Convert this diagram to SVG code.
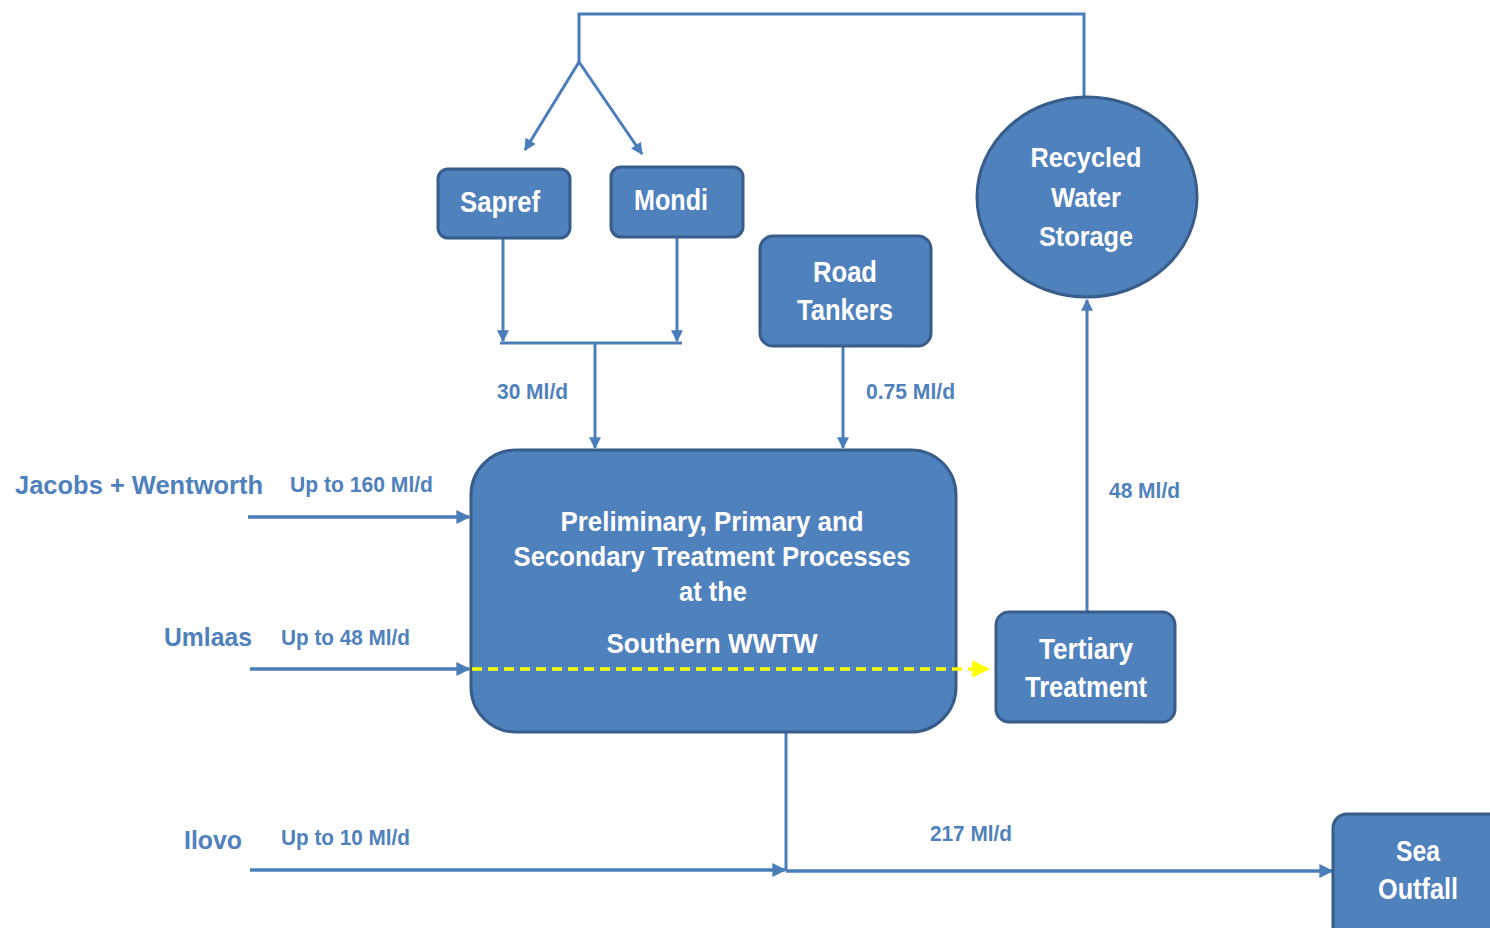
<svg xmlns="http://www.w3.org/2000/svg" width="1490" height="928" viewBox="0 0 1490 928">
<defs>
<style>
.node{fill:#4F81BD;stroke:#385D8A;stroke-width:3}
.nt{fill:#FFFFFF;font-family:"Liberation Sans Narrow","Liberation Sans",Arial,sans-serif;font-weight:bold;text-anchor:middle}
.lbl{fill:#4F81BD;font-family:"Liberation Sans Narrow","Liberation Sans",Arial,sans-serif;font-weight:bold}
.src{fill:#4F81BD;font-family:"Liberation Sans",Arial,sans-serif;font-weight:bold}
.ln{fill:none;stroke:#4A7EBB;stroke-width:3.5}
.thin{fill:none;stroke:#4A7EBB;stroke-width:3}
</style>
<marker id="ah" viewBox="0 0 10 10" refX="9" refY="5" markerWidth="4" markerHeight="4" orient="auto" markerUnits="strokeWidth">
<path d="M0,0 L10,5 L0,10 z" fill="#4A7EBB"/>
</marker>
<marker id="ay" viewBox="0 0 10 10" refX="9" refY="5" markerWidth="5" markerHeight="5" orient="auto" markerUnits="strokeWidth">
<path d="M0,0 L10,5 L0,10 z" fill="#FFFF00"/>
</marker>
</defs>
<rect width="1490" height="928" fill="#FFFFFF"/>

<g id="connectors">
<polyline class="thin" points="1084,97 1084,14 579,14 579,62"/>
<line class="thin" x1="579" y1="62" x2="525" y2="150" marker-end="url(#ah)"/>
<line class="thin" x1="579" y1="62" x2="642" y2="154" marker-end="url(#ah)"/>
<line class="thin" x1="503" y1="238" x2="503" y2="341" marker-end="url(#ah)"/>
<line class="thin" x1="677" y1="237" x2="677" y2="341" marker-end="url(#ah)"/>
<line class="thin" x1="500" y1="343" x2="682" y2="343"/>
<line class="thin" x1="595" y1="343" x2="595" y2="448" marker-end="url(#ah)"/>
<line class="thin" x1="843" y1="346" x2="843" y2="448" marker-end="url(#ah)"/>
<line class="ln" x1="248" y1="517" x2="469" y2="517" marker-end="url(#ah)"/>
<line class="ln" x1="250" y1="669" x2="469" y2="669" marker-end="url(#ah)"/>
<line class="thin" x1="1087" y1="612" x2="1087" y2="300" marker-end="url(#ah)"/>
<line class="thin" x1="786" y1="732" x2="786" y2="871"/>
<line class="ln" x1="250" y1="870" x2="785" y2="870" marker-end="url(#ah)"/>
<line class="ln" x1="786" y1="871" x2="1332" y2="871" marker-end="url(#ah)"/>
</g>

<g id="sapref">
<rect class="node" x="438" y="169" width="132" height="69" rx="10"/>
<text class="nt" x="500" y="212" font-size="29" textLength="80" lengthAdjust="spacingAndGlyphs">Sapref</text>
</g>
<g id="mondi">
<rect class="node" x="611" y="167" width="132" height="70" rx="10"/>
<text class="nt" x="671" y="210" font-size="29" textLength="74" lengthAdjust="spacingAndGlyphs">Mondi</text>
</g>
<g id="road-tankers">
<rect class="node" x="760" y="236" width="171" height="110" rx="13"/>
<text class="nt" x="845" y="282" font-size="29" textLength="64" lengthAdjust="spacingAndGlyphs">Road</text>
<text class="nt" x="845" y="320" font-size="29" textLength="96" lengthAdjust="spacingAndGlyphs">Tankers</text>
</g>
<g id="recycled-water-storage">
<ellipse class="node" cx="1087" cy="197" rx="110" ry="100"/>
<text class="nt" x="1086" y="167" font-size="28" textLength="111" lengthAdjust="spacingAndGlyphs">Recycled</text>
<text class="nt" x="1086" y="207" font-size="28" textLength="70" lengthAdjust="spacingAndGlyphs">Water</text>
<text class="nt" x="1086" y="246" font-size="28" textLength="94" lengthAdjust="spacingAndGlyphs">Storage</text>
</g>
<g id="southern-wwtw">
<rect class="node" x="471" y="450" width="485" height="282" rx="45"/>
<text class="nt" x="712" y="531" font-size="28" textLength="303" lengthAdjust="spacingAndGlyphs">Preliminary, Primary and</text>
<text class="nt" x="712" y="566" font-size="28" textLength="397" lengthAdjust="spacingAndGlyphs">Secondary  Treatment Processes</text>
<text class="nt" x="713" y="601" font-size="28" textLength="68" lengthAdjust="spacingAndGlyphs">at the</text>
<text class="nt" x="712" y="653" font-size="28" textLength="211" lengthAdjust="spacingAndGlyphs">Southern WWTW</text>
<line x1="472" y1="669" x2="988" y2="669" stroke="#FFFF00" stroke-width="3.5" stroke-dasharray="10,6" marker-end="url(#ay)"/>
</g>
<g id="tertiary-treatment">
<rect class="node" x="996" y="612" width="179" height="110" rx="13"/>
<text class="nt" x="1086" y="659" font-size="29" textLength="94" lengthAdjust="spacingAndGlyphs">Tertiary</text>
<text class="nt" x="1086" y="697" font-size="29" textLength="122" lengthAdjust="spacingAndGlyphs">Treatment</text>
</g>
<g id="sea-outfall">
<rect class="node" x="1333" y="814" width="180" height="130" rx="14"/>
<text class="nt" x="1418" y="861" font-size="29" textLength="44" lengthAdjust="spacingAndGlyphs">Sea</text>
<text class="nt" x="1418" y="899" font-size="29" textLength="80" lengthAdjust="spacingAndGlyphs">Outfall</text>
</g>

<g id="labels">
<text class="src" x="15" y="494" font-size="26" textLength="248" lengthAdjust="spacingAndGlyphs">Jacobs + Wentworth</text>
<text class="lbl" x="290" y="492" font-size="22" textLength="143" lengthAdjust="spacingAndGlyphs">Up to 160  Ml/d</text>
<text class="src" x="164" y="646" font-size="26" textLength="88" lengthAdjust="spacingAndGlyphs">Umlaas</text>
<text class="lbl" x="281" y="645" font-size="22" textLength="129" lengthAdjust="spacingAndGlyphs">Up to 48 Ml/d</text>
<text class="src" x="184" y="849" font-size="26" textLength="58" lengthAdjust="spacingAndGlyphs">Ilovo</text>
<text class="lbl" x="281" y="845" font-size="22" textLength="129" lengthAdjust="spacingAndGlyphs">Up to 10 Ml/d</text>
<text class="lbl" x="930" y="841" font-size="22" textLength="82" lengthAdjust="spacingAndGlyphs">217 Ml/d</text>
<text class="lbl" x="497" y="399" font-size="22" textLength="71" lengthAdjust="spacingAndGlyphs">30 Ml/d</text>
<text class="lbl" x="866" y="399" font-size="22" textLength="89" lengthAdjust="spacingAndGlyphs">0.75 Ml/d</text>
<text class="lbl" x="1109" y="498" font-size="22" textLength="71" lengthAdjust="spacingAndGlyphs">48 Ml/d</text>
</g>
</svg>
